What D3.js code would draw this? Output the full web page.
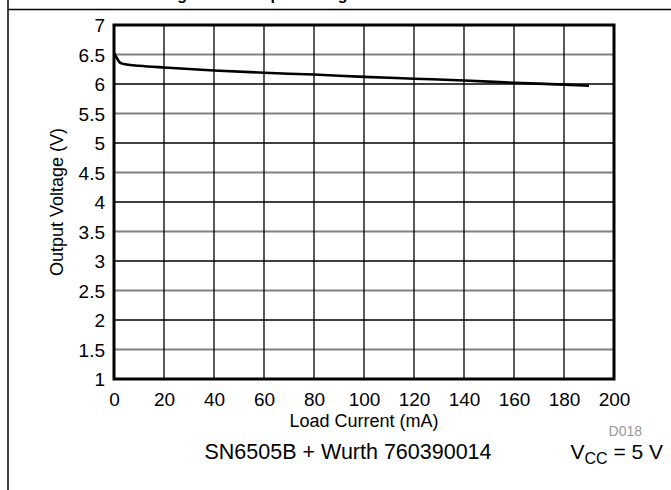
<!DOCTYPE html>
<html>
<head>
<meta charset="utf-8">
<script src="https://cdn.jsdelivr.net/npm/d3@7"></script>
<style>
  body { margin: 0; background: #fff; }
  svg { display: block; font-family: "Liberation Sans", Arial, sans-serif; }
</style>
</head>
<body>
<svg id="drawing_region"></svg>
<script>
// load current (mA) and output voltage (V)
const current = [0, 1, 2, 3, 5, 10, 20, 40, 60, 80, 100, 120, 140, 160, 180, 190];
const voltage = [6.53, 6.45, 6.38, 6.35, 6.33, 6.31, 6.28, 6.23, 6.19, 6.16, 6.12, 6.09, 6.06, 6.02, 5.99, 5.97];

const xTicks = [0, 20, 40, 60, 80, 100, 120, 140, 160, 180, 200];
const yTicks = [1, 1.5, 2, 2.5, 3, 3.5, 4, 4.5, 5, 5.5, 6, 6.5, 7];

const config = {
    width: 671,
    height: 490,
    margin: {top: 25, right: 57, bottom: 111, left: 114}
};

const svg = d3.select('#drawing_region')
    .attr('width', config.width)
    .attr('height', config.height);

const inner_width = config.width - config.margin.left - config.margin.right;
const inner_height = config.height - config.margin.top - config.margin.bottom;

// page frame + cut off figure title
svg.append('line')
    .attr('x1', 8).attr('x2', 8).attr('y1', 0).attr('y2', config.height)
    .attr('stroke', '#000').attr('stroke-width', 1.5);
svg.append('line')
    .attr('x1', 8).attr('x2', config.width).attr('y1', 9.5).attr('y2', 9.5)
    .attr('stroke', '#000').attr('stroke-width', 1.5);
svg.append('text')
    .attr('x', 163).attr('y', -0.5)
    .attr('font-size', 16).attr('font-weight', 'bold')
    .text('Figure 18. Output Voltage vs Load Current');

const chart = svg.append('g')
    .attr('transform', `translate(${config.margin.left}, ${config.margin.top})`);

const xscale = d3.scaleLinear()
    .domain([0, 200])
    .range([0, inner_width]);

const yscale = d3.scaleLinear()
    .domain([1, 7])
    .range([inner_height, 0]);

// grid
chart.append('g')
    .selectAll('line')
    .data(yTicks.slice(1, -1))
    .join('line')
    .attr('x1', 0).attr('x2', inner_width)
    .attr('y1', d => yscale(d)).attr('y2', d => yscale(d))
    .attr('stroke', d => Number.isInteger(d) ? '#000' : '#808080')
    .attr('stroke-width', d => Number.isInteger(d) ? 1.3 : 2);

chart.append('g')
    .selectAll('line')
    .data(xTicks.slice(1, -1))
    .join('line')
    .attr('x1', d => xscale(d)).attr('x2', d => xscale(d))
    .attr('y1', 0).attr('y2', inner_height)
    .attr('stroke', '#000')
    .attr('stroke-width', 1.3);

// axes (labels only)
const xaxis = d3.axisBottom(xscale).tickValues(xTicks).tickSize(0).tickPadding(14);
const yaxis = d3.axisLeft(yscale).tickValues(yTicks).tickSize(0).tickPadding(9)
    .tickFormat(d => String(d));

const xaxis_group = chart.append('g')
    .attr('transform', `translate(0, ${inner_height})`)
    .call(xaxis);
const yaxis_group = chart.append('g')
    .call(yaxis);

[xaxis_group, yaxis_group].forEach(g => {
    g.select('.domain').remove();
    g.selectAll('text')
        .attr('font-size', 19)
        .attr('font-family', '"Liberation Sans", Arial, sans-serif')
        .attr('fill', '#000');
});
yaxis_group.selectAll('text').attr('dy', '0.36em');

// curve
const line = d3.line()
    .x((d, i) => xscale(current[i]))
    .y(d => yscale(d))
    .curve(d3.curveMonotoneX);

chart.append('path')
    .datum(voltage)
    .attr('d', line)
    .attr('fill', 'none')
    .attr('stroke', '#000')
    .attr('stroke-width', 2.6);

// plot border
chart.append('rect')
    .attr('x', 0).attr('y', 0)
    .attr('width', inner_width).attr('height', inner_height)
    .attr('fill', 'none')
    .attr('stroke', '#000')
    .attr('stroke-width', 3);

// titles
chart.append('text')
    .attr('x', inner_width / 2).attr('y', inner_height + 48)
    .attr('text-anchor', 'middle')
    .attr('font-size', 18)
    .text('Load Current (mA)');

chart.append('text')
    .attr('transform', `translate(${57 - config.margin.left}, ${inner_height / 2}) rotate(-90)`)
    .attr('text-anchor', 'middle')
    .attr('dy', '0.35em')
    .attr('font-size', 18)
    .text('Output Voltage (V)');

svg.append('text')
    .attr('x', 642).attr('y', 436)
    .attr('text-anchor', 'end')
    .attr('font-size', 14)
    .attr('fill', '#999')
    .text('D018');

svg.append('text')
    .attr('x', 348).attr('y', 459)
    .attr('text-anchor', 'middle')
    .attr('font-size', 21.5)
    .text('SN6505B + Wurth 760390014');

const vcc = svg.append('text')
    .attr('x', 663).attr('y', 459)
    .attr('text-anchor', 'end')
    .attr('font-size', 21);
vcc.append('tspan').text('V');
vcc.append('tspan').attr('font-size', 16).attr('dy', 5).text('CC');
vcc.append('tspan').attr('dy', -5).text(' = 5 V');
</script>
</body>
</html>
